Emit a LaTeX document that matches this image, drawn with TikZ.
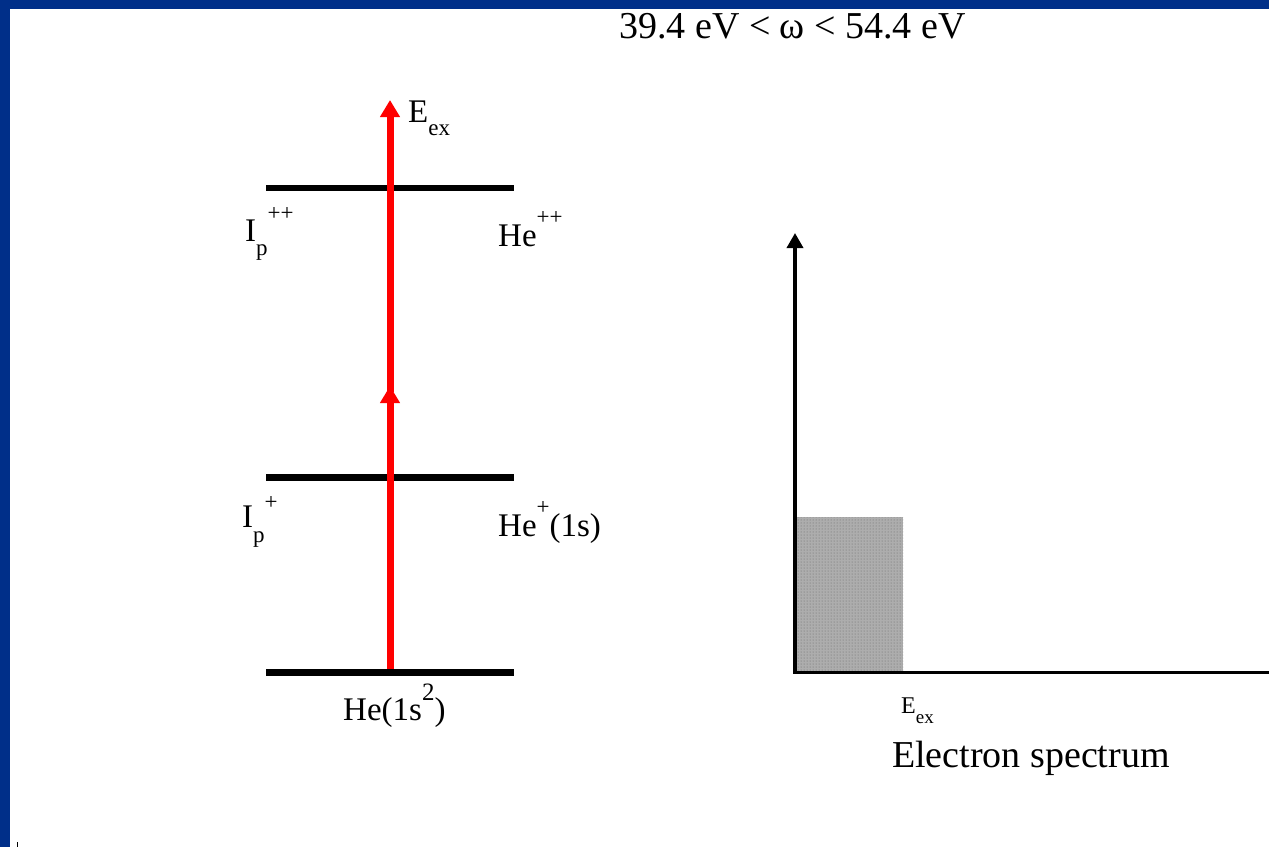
\documentclass[tikz,border=0pt]{standalone}
\usepackage{fontspec}
\setmainfont{Liberation Serif}
\usetikzlibrary{arrows.meta,patterns}
\definecolor{slideblue}{RGB}{0,47,137}
\definecolor{arrowred}{RGB}{255,0,0}
\newcommand\mainsz{\fontsize{33}{40}\selectfont}
\newcommand\bigsz{\fontsize{38}{44}\selectfont}
\newcommand\subsz{\fontsize{23}{26}\selectfont}
\begin{document}
\begin{tikzpicture}[x=1pt,y=-1pt,
  lbl/.style={font=\mainsz, inner sep=0pt, anchor=base west},
  level/.style={line width=6.5pt, black},
  excite/.style={line width=7pt, arrowred, -{Triangle[length=17pt,width=19pt]}},
  axis/.style={line width=3.5pt, black},
]
\useasboundingbox (0,0) rectangle (1269,847);
\fill[white] (0,0) rectangle (1269,847);
% slide frame
\fill[slideblue] (0,0) rectangle (1269,9);
\fill[slideblue] (0,0) rectangle (10,847);
\draw[line width=1pt] (17.5,842) -- (17.5,847);

% title
\node[lbl, font=\bigsz] (title) at (619,38.5) {39.4 eV {<} ω {<} 54.4 eV};

% energy levels
\draw[level] (266,188) -- (514,188);
\draw[level] (266,477.5) -- (514,477.5);
\draw[level] (266,672.5) -- (514,672.5);

% excitation arrows
\coordinate (g) at (390,669);
\coordinate (m) at (390,386);
\coordinate (m2) at (390,392);
\coordinate (t) at (390,100);
\draw[excite] (g) -- (m);
\draw[excite] (m2) -- (t);

% level labels
\node[lbl] (eex) at (408,122.7) {E\raisebox{-12.5pt}{\subsz ex}};
\node[lbl] (ipp) at (245,241.7) {I\raisebox{-14pt}{\subsz p}\raisebox{21pt}{\subsz ++}};
\node[lbl] (hepp) at (498,246) {He\raisebox{21.5pt}{\subsz ++}};
\node[lbl] (ip) at (242,527) {I\raisebox{-15pt}{\subsz p}\raisebox{18pt}{\subsz +}};
\node[lbl] (hep) at (498,536) {He\raisebox{21.5pt}{\subsz +}(1s)};
\node[lbl] (he) at (343,720) {He(1s\raisebox{20pt}{\fontsize{25}{28}\selectfont 2})};

% spectrum
\fill[black!32] (797,517) rectangle (903,671);
\fill[pattern=dots, pattern color=black!60] (797,517) rectangle (903,671);
\coordinate (o) at (795,672.5);
\coordinate (ytop) at (795,233);
\coordinate (xend) at (1269,672.5);
\draw[axis, -{Triangle[length=15pt,width=16pt]}] (o) -- (ytop);
\draw[axis] ([xshift=-1.75pt]o) -- (xend);
\node[lbl, font=\fontsize{24}{28}\selectfont] (eex2) at (901,713) {E\raisebox{-10pt}{\fontsize{19}{21}\selectfont ex}};
\node[lbl, font=\bigsz] (spec) at (892,767) {Electron spectrum};
\end{tikzpicture}
\end{document}
